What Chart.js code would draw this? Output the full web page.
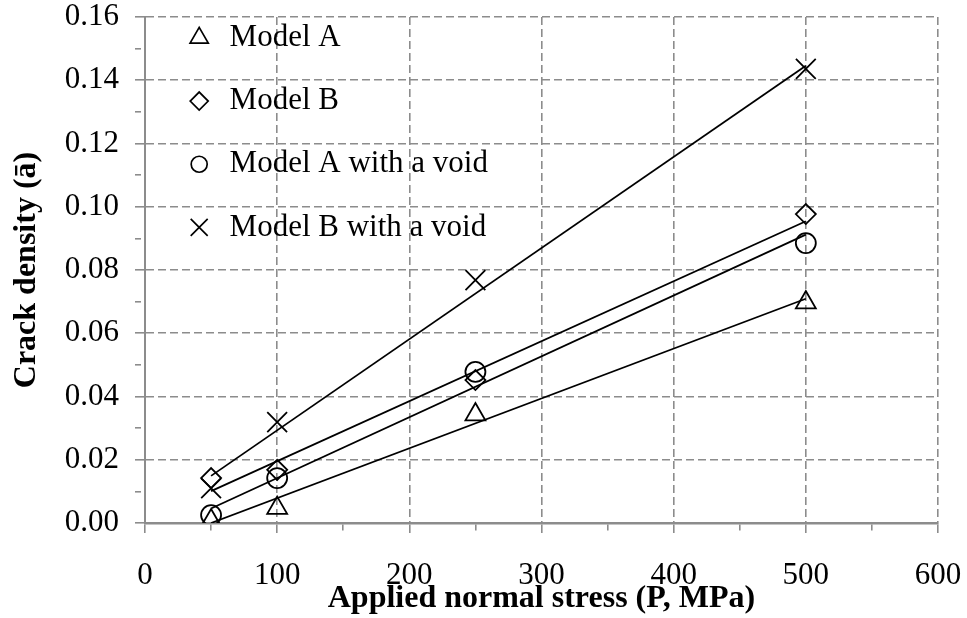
<!DOCTYPE html>
<html>
<head>
<meta charset="utf-8">
<script src="https://cdn.jsdelivr.net/npm/chart.js@4.4.1/dist/chart.umd.min.js"></script>
<style>
  html, body { margin: 0; padding: 0; background: #fff; }
  #wrap { width: 967px; height: 618px; position: relative; }
</style>
</head>
<body>
<div id="wrap"><canvas id="crackChart"></canvas></div>
<script>
// Measured points (applied stress in MPa vs crack density)
const stress = [50, 100, 250, 500];
const modelA = [0.0008, 0.0047, 0.0343, 0.0697];
const modelB = [0.0142, 0.0168, 0.0452, 0.0977];
const modelAVoid = [0.0025, 0.0142, 0.0478, 0.0885];
const modelBVoid = [0.0110, 0.0319, 0.0768, 0.1436];

// Trend line end points
const trendStress = [50, 500];
const trendA = [0.0000, 0.0709];
const trendB = [0.0101, 0.0954];
const trendAVoid = [0.0046, 0.0912];
const trendBVoid = [0.0149, 0.1446];

const seriesNames = ['Model A', 'Model B', 'Model A with a void', 'Model B with a void'];

const serif = '"Liberation Serif", "Times New Roman", serif';
const gridGray = '#8c8c8c';

function toPoints(xs, ys) {
    return xs.map((x, i) => ({ x: x, y: ys[i] }));
}

function markerSet(label, ys, style, radius) {
    return {
        type: 'scatter',
        label: label,
        data: toPoints(stress, ys),
        pointStyle: style,
        pointRadius: radius,
        pointHoverRadius: radius,
        pointBorderColor: '#000',
        pointBackgroundColor: 'rgba(0,0,0,0)',
        pointBorderWidth: 1.8,
        showLine: false
    };
}

function trendSet(ys) {
    return {
        type: 'line',
        label: '',
        data: toPoints(trendStress, ys),
        borderColor: '#000',
        borderWidth: 1.8,
        pointRadius: 0,
        fill: false,
        tension: 0
    };
}

// legend drawn inside the plot, top left
const legendMarks = [
    { style: 'triangle', radius: 10.5 },
    { style: 'rectRot', radius: 9 },
    { style: 'circle', radius: 8 },
    { style: 'crossRot', radius: 12 }
];

const innerLegend = {
    id: 'innerLegend',
    afterDatasetsDraw(chart) {
        const ctx = chart.ctx;
        const x0 = chart.scales.x.getPixelForValue(41);
        const tx = chart.scales.x.getPixelForValue(64);
        ctx.save();
        seriesNames.forEach((name, i) => {
            const y = chart.scales.y.getPixelForValue(0.1534 - i * 0.01998);
            ctx.strokeStyle = '#000';
            ctx.fillStyle = 'rgba(0,0,0,0)';
            ctx.lineWidth = 1.7;
            Chart.helpers.drawPoint(ctx, {
                pointStyle: legendMarks[i].style,
                radius: legendMarks[i].radius,
                rotation: 0,
                borderWidth: 1.7
            }, x0, y);
            ctx.fillStyle = '#000';
            ctx.font = '31px ' + serif;
            ctx.textBaseline = 'middle';
            ctx.textAlign = 'left';
            ctx.fillText(name, tx, y);
        });
        ctx.restore();
    }
};

const isMajorX = v => Math.round(v) % 100 === 0;
const isMajorY = v => Math.round(v * 100) % 2 === 0;

const ctx = document.getElementById('crackChart').getContext('2d');
const crackChart = new Chart(ctx, {
    data: {
        datasets: [
            markerSet(seriesNames[0], modelA, 'triangle', 11.5),
            markerSet(seriesNames[1], modelB, 'rectRot', 10),
            markerSet(seriesNames[2], modelAVoid, 'circle', 10),
            markerSet(seriesNames[3], modelBVoid, 'crossRot', 14),
            trendSet(trendA),
            trendSet(trendB),
            trendSet(trendAVoid),
            trendSet(trendBVoid)
        ]
    },
    options: {
        responsive: true,
        maintainAspectRatio: false,
        animation: false,
        layout: { padding: { left: 0, right: 29, top: 17, bottom: 0 } },
        plugins: {
            legend: { display: false },
            tooltip: { enabled: false }
        },
        scales: {
            x: {
                type: 'linear',
                min: 0,
                max: 600,
                ticks: {
                    stepSize: 50,
                    color: '#000',
                    font: { family: serif, size: 31 },
                    padding: 24,
                    maxRotation: 0,
                    autoSkip: false,
                    callback: v => isMajorX(v) ? String(v) : ''
                },
                grid: {
                    color: c => (c.tick && isMajorX(c.tick.value) && c.tick.value !== 0) ? gridGray : 'rgba(0,0,0,0)',
                    lineWidth: 1.6,
                    tickColor: gridGray,
                    tickWidth: 1.6,
                    tickLength: 10,
                    tickBorderDash: c => (c.tick && isMajorX(c.tick.value)) ? [] : [6, 40]
                },
                border: { display: true, color: gridGray, width: 2.5, dash: [8, 4] },
                title: {
                    display: true,
                    text: 'Applied normal stress (P, MPa)',
                    color: '#000',
                    font: { family: serif, size: 32, weight: 'bold' },
                    padding: { top: 0, bottom: 0 }
                },
                afterFit: s => {
                    s.height = 95;
                    s.paddingLeft = 0;
                    s.paddingRight = 0;
                }
            },
            y: {
                type: 'linear',
                min: 0,
                max: 0.16,
                ticks: {
                    stepSize: 0.01,
                    color: '#000',
                    font: { family: serif, size: 31 },
                    padding: 16,
                    autoSkip: false,
                    callback: v => isMajorY(v) ? v.toFixed(2) : ''
                },
                grid: {
                    color: c => (c.tick && isMajorY(c.tick.value) && c.tick.value > 0.001) ? gridGray : 'rgba(0,0,0,0)',
                    lineWidth: 1.6,
                    tickColor: gridGray,
                    tickWidth: 1.6,
                    tickLength: 10,
                    tickBorderDash: c => (c.tick && isMajorY(c.tick.value)) ? [] : [6, 40]
                },
                border: { display: true, color: gridGray, width: 2, dash: [8, 4] },
                title: {
                    display: true,
                    text: 'Crack density (ā)',
                    color: '#000',
                    font: { family: serif, size: 32, weight: 'bold' },
                    padding: { top: 8, bottom: 0 }
                },
                afterFit: s => {
                    s.width = 145;
                    s.paddingTop = 0;
                    s.paddingBottom = 0;
                }
            }
        }
    },
    plugins: [innerLegend]
});
</script>
</body>
</html>
